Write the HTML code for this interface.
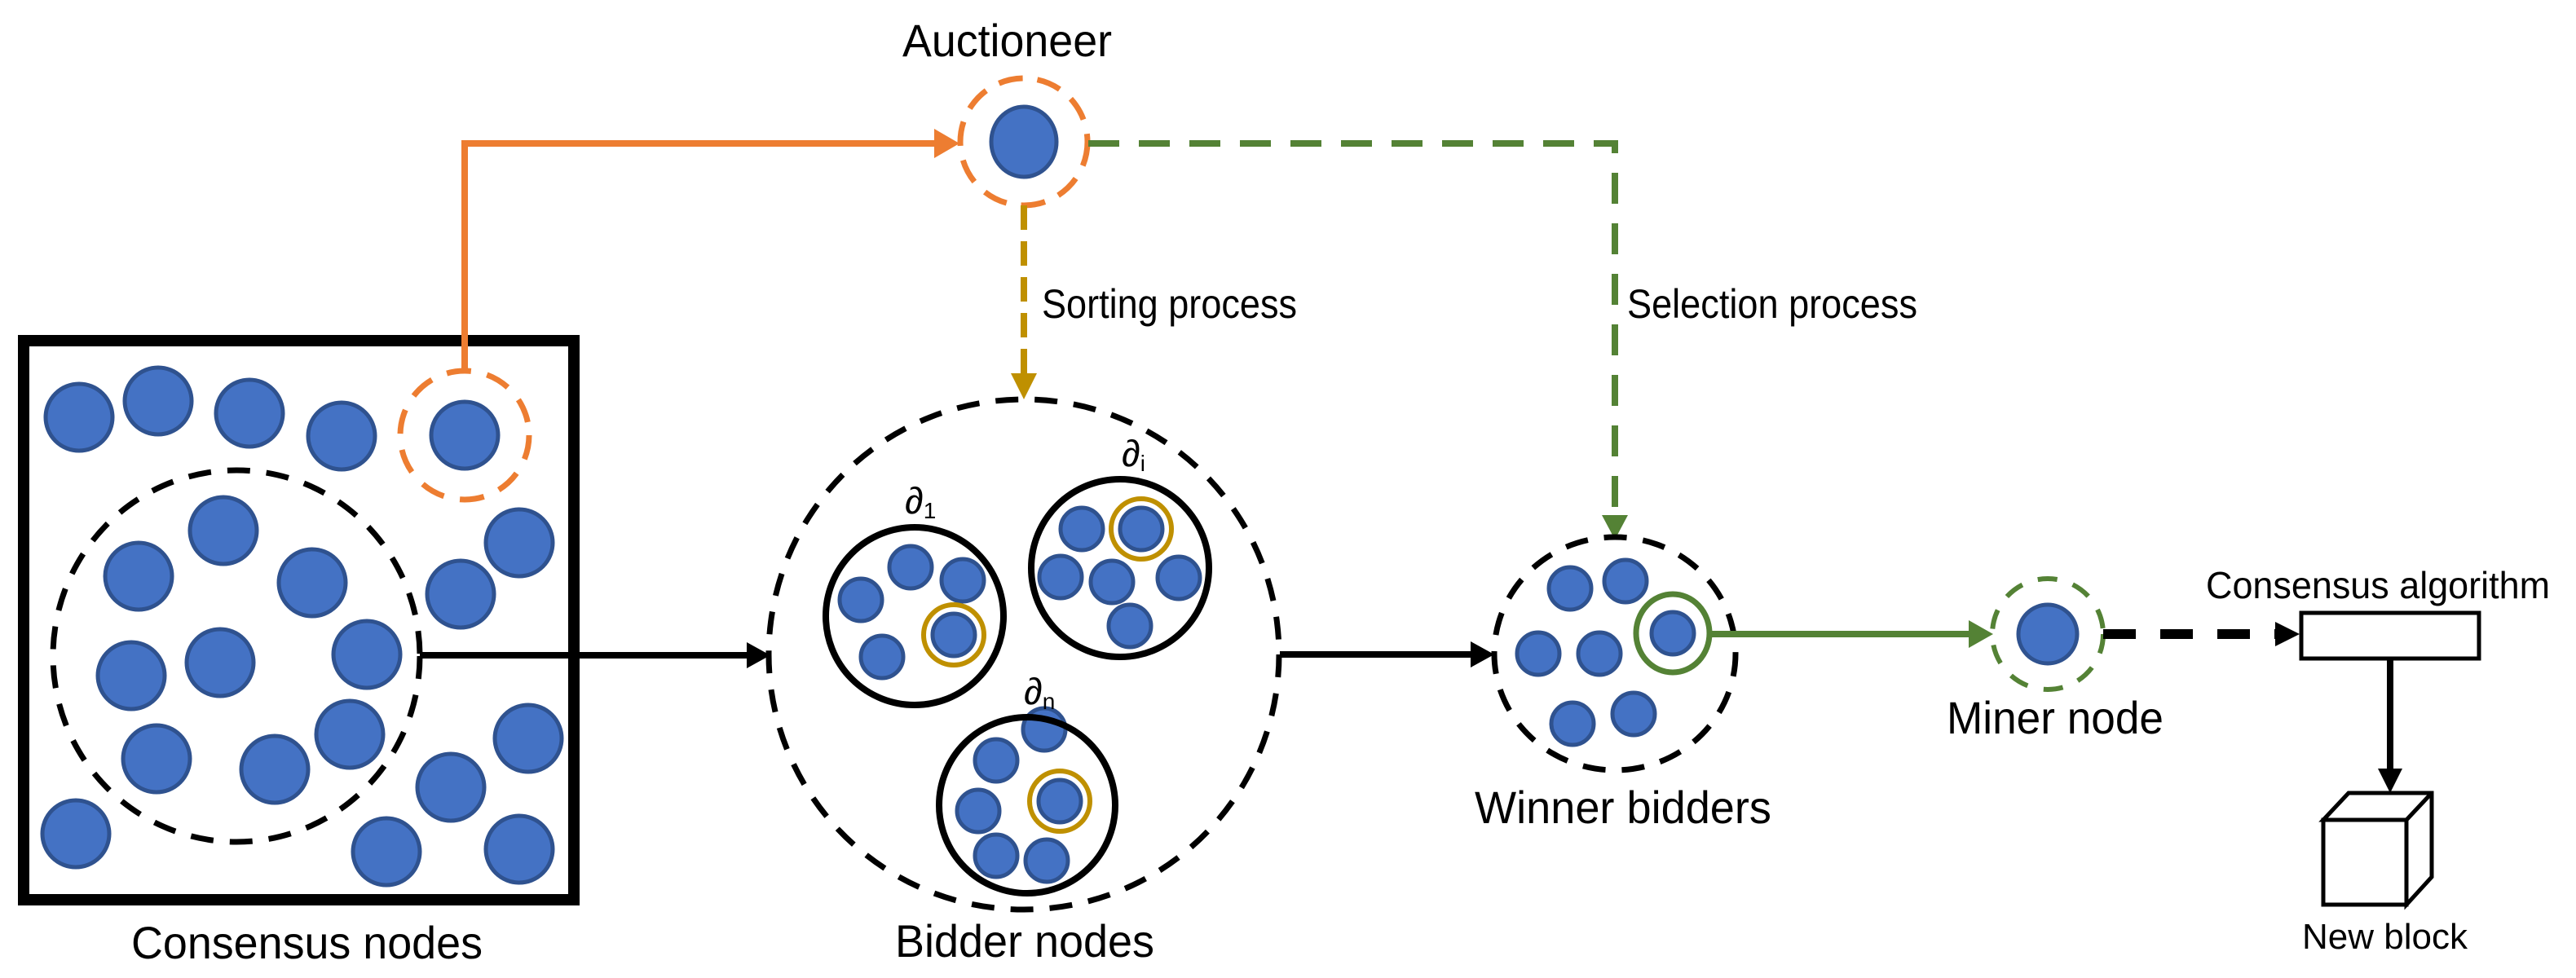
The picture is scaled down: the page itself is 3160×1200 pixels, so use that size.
<!DOCTYPE html>
<html><head><meta charset="utf-8"><style>
html,body{margin:0;padding:0;background:#fff;}
svg{display:block;}
text{font-family:"Liberation Sans",sans-serif;fill:#000;}
</style></head><body>
<svg width="3160" height="1200" viewBox="0 0 3160 1200" xmlns="http://www.w3.org/2000/svg">
<g fill="#4472C4" stroke="#2F528F" stroke-width="5">
<circle cx="97" cy="512" r="41"/><circle cx="194" cy="492" r="41"/><circle cx="306" cy="507" r="41"/><circle cx="419" cy="535" r="41"/><circle cx="570" cy="534" r="41"/>
<circle cx="274" cy="651" r="41"/><circle cx="170" cy="707" r="41"/><circle cx="383" cy="715" r="41"/><circle cx="637" cy="666" r="41"/><circle cx="565" cy="729" r="41"/>
<circle cx="161" cy="829" r="41"/><circle cx="270" cy="813" r="41"/><circle cx="450" cy="803" r="41"/><circle cx="429" cy="901" r="41"/><circle cx="192" cy="931" r="41"/>
<circle cx="337" cy="944" r="41"/><circle cx="648" cy="906" r="41"/><circle cx="553" cy="966" r="41"/><circle cx="93" cy="1023" r="41"/><circle cx="474" cy="1045" r="41"/><circle cx="637" cy="1042" r="41"/>
<ellipse cx="1256" cy="174" rx="40" ry="43"/>
<circle cx="1056" cy="736" r="26"/><circle cx="1117" cy="696" r="26"/><circle cx="1181" cy="712" r="26"/><circle cx="1082" cy="806" r="26"/><circle cx="1170" cy="779" r="26"/>
<circle cx="1327" cy="649" r="26"/><circle cx="1400" cy="649" r="26"/><circle cx="1301" cy="708" r="26"/><circle cx="1364" cy="714" r="26"/><circle cx="1446" cy="709" r="26"/><circle cx="1386" cy="768" r="26"/>
<circle cx="1222" cy="933" r="26"/><circle cx="1281" cy="895" r="26"/><circle cx="1200" cy="995" r="26"/><circle cx="1300" cy="983" r="26"/><circle cx="1222" cy="1050" r="26"/><circle cx="1284" cy="1056" r="26"/>
<circle cx="1926" cy="722" r="26"/><circle cx="1994" cy="713" r="26"/><circle cx="1887" cy="802" r="26"/><circle cx="1962" cy="802" r="26"/><circle cx="2052" cy="777" r="26"/><circle cx="1929" cy="888" r="26"/><circle cx="2004" cy="876" r="26"/>
<circle cx="2512" cy="778" r="36"/>
</g>
<rect x="29" y="418" width="675" height="686" fill="none" stroke="#000" stroke-width="14"/>
<ellipse cx="290" cy="805" rx="225" ry="228" fill="none" stroke="#000" stroke-width="7" stroke-dasharray="28,20"/>
<circle cx="570" cy="534" r="79" fill="none" stroke="#ED7D31" stroke-width="7" stroke-dasharray="30,20"/>
<polyline points="570,456 570,176 1150,176" fill="none" stroke="#ED7D31" stroke-width="8"/>
<path d="M1146,158 L1177,176 L1146,194 z" fill="#ED7D31"/>
<circle cx="1256" cy="174" r="78" fill="none" stroke="#ED7D31" stroke-width="7" stroke-dasharray="30,18"/>
<line x1="1256" y1="252" x2="1256" y2="462" stroke="#BF9000" stroke-width="8" stroke-dasharray="30,14"/>
<path d="M1240,458 L1256,490 L1272,458 z" fill="#BF9000"/>
<polyline points="1335,176 1981,176 1981,635" fill="none" stroke="#548235" stroke-width="8" stroke-dasharray="38,24"/>
<path d="M1965,632 L1981,662 L1997,632 z" fill="#548235"/>
<line x1="515" y1="804" x2="920" y2="804" stroke="#000" stroke-width="8"/>
<path d="M916,788 L945,804 L916,820 z"/>
<circle cx="1256" cy="803" r="313" fill="none" stroke="#000" stroke-width="7" stroke-dasharray="28,20"/>
<circle cx="1122" cy="756" r="109" fill="none" stroke="#000" stroke-width="8"/>
<circle cx="1374" cy="697" r="109" fill="none" stroke="#000" stroke-width="8"/>
<circle cx="1260" cy="988" r="108" fill="none" stroke="#000" stroke-width="8"/>
<circle cx="1170" cy="779" r="37" fill="none" stroke="#BF9000" stroke-width="6"/>
<circle cx="1400" cy="649" r="37" fill="none" stroke="#BF9000" stroke-width="6"/>
<circle cx="1300" cy="983" r="37" fill="none" stroke="#BF9000" stroke-width="6"/>
<text x="1110" y="630" font-size="46" font-style="italic" font-family="Liberation Serif,serif">∂<tspan font-size="28" dy="6" font-style="normal">1</tspan></text>
<text x="1376" y="572" font-size="46" font-style="italic" font-family="Liberation Serif,serif">∂<tspan font-size="28" dy="6" font-style="normal">i</tspan></text>
<text x="1256" y="864" font-size="46" font-style="italic" font-family="Liberation Serif,serif">∂<tspan font-size="28" dy="6" font-style="normal">n</tspan></text>
<line x1="1570" y1="803" x2="1808" y2="803" stroke="#000" stroke-width="8"/>
<path d="M1804,787 L1833,803 L1804,819 z"/>
<ellipse cx="1981" cy="802" rx="148" ry="143" fill="none" stroke="#000" stroke-width="7" stroke-dasharray="28,20"/>
<ellipse cx="2052" cy="777" rx="45" ry="48" fill="none" stroke="#548235" stroke-width="7"/>
<line x1="2097" y1="778" x2="2418" y2="778" stroke="#548235" stroke-width="8"/>
<path d="M2415,761 L2445,778 L2415,795 z" fill="#548235"/>
<circle cx="2512" cy="778" r="68" fill="none" stroke="#548235" stroke-width="6" stroke-dasharray="24,20"/>
<line x1="2580" y1="778" x2="2792" y2="778" stroke="#000" stroke-width="12" stroke-dasharray="40,30"/>
<path d="M2791,763 L2821,778 L2791,793 z"/>
<rect x="2823" y="752" width="218" height="56" fill="#fff" stroke="#000" stroke-width="5"/>
<line x1="2932" y1="809" x2="2932" y2="945" stroke="#000" stroke-width="8"/>
<path d="M2917,943 L2932,973 L2947,943 z"/>
<g fill="#fff" stroke="#000" stroke-width="5">
<path d="M2850,1006 L2881,973 L2983,973 L2983,1076 L2952,1110 L2952,1006 z"/>
<rect x="2850" y="1006" width="102" height="104"/>
<line x1="2952" y1="1006" x2="2983" y2="973"/>
</g>
<text x="161" y="1176" font-size="56" textLength="431" lengthAdjust="spacingAndGlyphs">Consensus nodes</text>
<text x="1107" y="69" font-size="56" textLength="257" lengthAdjust="spacingAndGlyphs">Auctioneer</text>
<text x="1278" y="390" font-size="50" textLength="313" lengthAdjust="spacingAndGlyphs">Sorting process</text>
<text x="1996" y="390" font-size="50" textLength="356" lengthAdjust="spacingAndGlyphs">Selection process</text>
<text x="1098" y="1174" font-size="56" textLength="318" lengthAdjust="spacingAndGlyphs">Bidder nodes</text>
<text x="1809" y="1010" font-size="56" textLength="364" lengthAdjust="spacingAndGlyphs">Winner bidders</text>
<text x="2388" y="900" font-size="56" textLength="266" lengthAdjust="spacingAndGlyphs">Miner node</text>
<text x="2706" y="734" font-size="46" textLength="422" lengthAdjust="spacingAndGlyphs">Consensus algorithm</text>
<text x="2824" y="1164" font-size="44" textLength="203" lengthAdjust="spacingAndGlyphs">New block</text>
</svg>
</body></html>
